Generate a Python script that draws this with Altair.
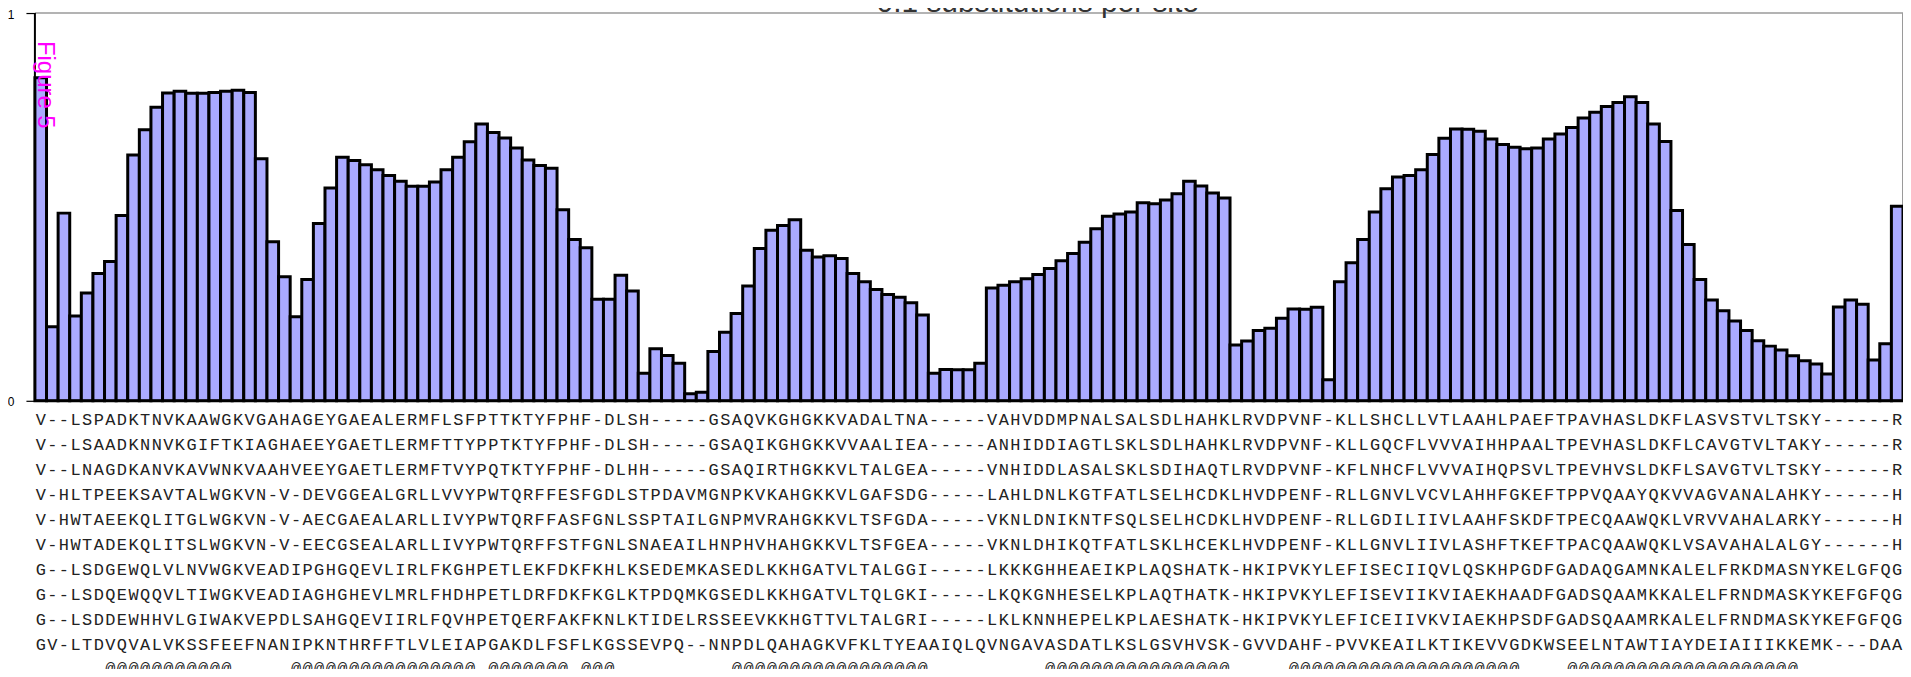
import altair as alt
import pandas as pd

# ---------------- data ----------------
values = [
    0.833, 0.191, 0.484, 0.219, 0.278, 0.328, 0.359, 0.478, 0.634, 0.699,
    0.757, 0.794, 0.798, 0.793, 0.793, 0.795, 0.798, 0.801, 0.795, 0.624,
    0.410, 0.320, 0.217, 0.313, 0.457, 0.549, 0.628, 0.620, 0.609, 0.596,
    0.581, 0.566, 0.553, 0.553, 0.564, 0.596, 0.628, 0.668, 0.714, 0.692,
    0.678, 0.652, 0.621, 0.607, 0.600, 0.493, 0.416, 0.395, 0.262, 0.262,
    0.324, 0.283, 0.071, 0.134, 0.117, 0.097, 0.018, 0.022, 0.127, 0.177,
    0.225, 0.296, 0.393, 0.440, 0.452, 0.467, 0.388, 0.371, 0.374, 0.367,
    0.328, 0.307, 0.287, 0.274, 0.267, 0.253, 0.221, 0.071, 0.081, 0.080,
    0.080, 0.097, 0.291, 0.298, 0.307, 0.315, 0.326, 0.341, 0.361, 0.380,
    0.409, 0.444, 0.476, 0.482, 0.487, 0.511, 0.508, 0.518, 0.534, 0.566,
    0.554, 0.536, 0.523, 0.144, 0.154, 0.181, 0.187, 0.213, 0.237, 0.236,
    0.241, 0.054, 0.307, 0.356, 0.416, 0.487, 0.547, 0.577, 0.581, 0.596,
    0.635, 0.677, 0.701, 0.700, 0.695, 0.675, 0.661, 0.654, 0.650, 0.652,
    0.675, 0.688, 0.705, 0.729, 0.744, 0.759, 0.769, 0.784, 0.769, 0.714,
    0.669, 0.491, 0.403, 0.313, 0.260, 0.232, 0.206, 0.181, 0.155, 0.141,
    0.131, 0.116, 0.103, 0.095, 0.069, 0.242, 0.260, 0.249, 0.105, 0.147,
    0.502,
]
columns = list(range(1, len(values) + 1))

sequences = [
    "V--LSPADKTNVKAAWGKVGAHAGEYGAEALERMFLSFPTTKTYFPHF-DLSH-----GSAQVKGHGKKVADALTNA-----VAHVDDMPNALSALSDLHAHKLRVDPVNF-KLLSHCLLVTLAAHLPAEFTPAVHASLDKFLASVSTVLTSKY------R",
    "V--LSAADKNNVKGIFTKIAGHAEEYGAETLERMFTTYPPTKTYFPHF-DLSH-----GSAQIKGHGKKVVAALIEA-----ANHIDDIAGTLSKLSDLHAHKLRVDPVNF-KLLGQCFLVVVAIHHPAALTPEVHASLDKFLCAVGTVLTAKY------R",
    "V--LNAGDKANVKAVWNKVAAHVEEYGAETLERMFTVYPQTKTYFPHF-DLHH-----GSAQIRTHGKKVLTALGEA-----VNHIDDLASALSKLSDIHAQTLRVDPVNF-KFLNHCFLVVVAIHQPSVLTPEVHVSLDKFLSAVGTVLTSKY------R",
    "V-HLTPEEKSAVTALWGKVN-V-DEVGGEALGRLLVVYPWTQRFFESFGDLSTPDAVMGNPKVKAHGKKVLGAFSDG-----LAHLDNLKGTFATLSELHCDKLHVDPENF-RLLGNVLVCVLAHHFGKEFTPPVQAAYQKVVAGVANALAHKY------H",
    "V-HWTAEEKQLITGLWGKVN-V-AECGAEALARLLIVYPWTQRFFASFGNLSSPTAILGNPMVRAHGKKVLTSFGDA-----VKNLDNIKNTFSQLSELHCDKLHVDPENF-RLLGDILIIVLAAHFSKDFTPECQAAWQKLVRVVAHALARKY------H",
    "V-HWTADEKQLITSLWGKVN-V-EECGSEALARLLIVYPWTQRFFSTFGNLSNAEAILHNPHVHAHGKKVLTSFGEA-----VKNLDHIKQTFATLSKLHCEKLHVDPENF-KLLGNVLIIVLASHFTKEFTPACQAAWQKLVSAVAHALALGY------H",
    "G--LSDGEWQLVLNVWGKVEADIPGHGQEVLIRLFKGHPETLEKFDKFKHLKSEDEMKASEDLKKHGATVLTALGGI-----LKKKGHHEAEIKPLAQSHATK-HKIPVKYLEFISECIIQVLQSKHPGDFGADAQGAMNKALELFRKDMASNYKELGFQG",
    "G--LSDQEWQQVLTIWGKVEADIAGHGHEVLMRLFHDHPETLDRFDKFKGLKTPDQMKGSEDLKKHGATVLTQLGKI-----LKQKGNHESELKPLAQTHATK-HKIPVKYLEFISEVIIKVIAEKHAADFGADSQAAMKKALELFRNDMASKYKEFGFQG",
    "G--LSDDEWHHVLGIWAKVEPDLSAHGQEVIIRLFQVHPETQERFAKFKNLKTIDELRSSEEVKKHGTTVLTALGRI-----LKLKNNHEPELKPLAESHATK-HKIPVKYLEFICEIIVKVIAEKHPSDFGADSQAAMRKALELFRNDMASKYKEFGFQG",
    "GV-LTDVQVALVKSSFEEFNANIPKNTHRFFTLVLEIAPGAKDLFSFLKGSSEVPQ--NNPDLQAHAGKVFKLTYEAAIQLQVNGAVASDATLKSLGSVHVSK-GVVDAHF-PVVKEAILKTIKEVVGDKWSEELNTAWTIAYDEIAIIIKKEMK---DAA",
]

helix_segments = [(7, 17), (23, 38), (40, 46), (48, 50), (61, 77),
                  (88, 103), (109, 128), (133, 152)]
helix_symbol = "@"

title_text = "0.1 substitutions per site"
figure_label = "Figure 5"

# ---------------- tables ----------------
bars_df = pd.DataFrame({"col": columns, "value": values})

rows = []
for r, s in enumerate(sequences):
    for i, ch in enumerate(s):
        rows.append({"col": i + 1, "row": r, "ch": ch})
for a, b in helix_segments:
    for c in range(a, b + 1):
        rows.append({"col": c, "row": len(sequences), "ch": helix_symbol})
text_df = pd.DataFrame(rows)

W = 1874
H = 657
PLOT_H = 389

xscale = alt.Scale(domain=columns, paddingInner=0, paddingOuter=0)
yscale = alt.Scale(domain=[0, 1], range=[PLOT_H, 0])

bars = alt.Chart(bars_df).mark_bar(
    fill="#aaaaff", stroke="black", strokeWidth=3
).encode(
    x=alt.X("col:O", scale=xscale, axis=None),
    y=alt.Y(
        "value:Q",
        scale=yscale,
        axis=alt.Axis(
            values=[0, 1], format="d", title=None, grid=False, domain=False,
            labelFont="Liberation Sans", labelFontSize=12, labelColor="black",
            labelPadding=12, labelOffset=1, tickSize=9, tickColor="black",
            tickWidth=1.2,
        ),
    ),
)

seq_text = alt.Chart(text_df).mark_text(
    font="Liberation Mono", fontSize=17, color="#222222", baseline="middle",
    align="center"
).encode(
    x=alt.X("col:O", scale=xscale, axis=None),
    y=alt.Y("row:O", scale=alt.Scale(type="point", range=[408.5, 658.5], padding=0), axis=None),
    text="ch:N",
)

one = pd.DataFrame({"k": [0]})

top_frame = alt.Chart(one).mark_rule(color="#9a9a9a", strokeWidth=1.5).encode(
    x=alt.value(0), x2=alt.value(W), y=alt.value(0))

right_frame = alt.Chart(one).mark_rule(color="#9a9a9a", strokeWidth=2).encode(
    x=alt.value(W), y=alt.value(0), y2=alt.value(PLOT_H))

left_axis = alt.Chart(one).mark_rule(color="black", strokeWidth=2).encode(
    x=alt.value(0), y=alt.value(0), y2=alt.value(PLOT_H))

bottom_axis = alt.Chart(one).mark_rule(color="black", strokeWidth=2).encode(
    x=alt.value(0), x2=alt.value(W + 2), y=alt.value(PLOT_H))

fig_label = alt.Chart(pd.DataFrame({"t": [figure_label]})).mark_text(
    font="Liberation Sans", fontSize=24, color="#ff00ff", angle=90,
    align="left", baseline="alphabetic"
).encode(x=alt.value(3), y=alt.value(28), text="t:N")

title_mark = alt.Chart(pd.DataFrame({"t": [title_text]})).mark_text(
    font="Liberation Sans", fontSize=30, color="#333333",
    align="center", baseline="alphabetic"
).encode(x=alt.value(1006), y=alt.value(-1), text="t:N")

chart = alt.layer(
    top_frame, right_frame, bars, left_axis, bottom_axis, seq_text,
    fig_label, title_mark
).resolve_scale(y="independent").properties(
    width=W, height=H,
    autosize=alt.AutoSizeParams(type="none"),
    padding={"left": 27, "top": 4, "right": 0, "bottom": 0},
).configure(
    background="white",
    view=alt.ViewConfig(strokeWidth=0, stroke="transparent"),
)

chart.save("out.html", embed_options={"renderer": "svg", "actions": False})
